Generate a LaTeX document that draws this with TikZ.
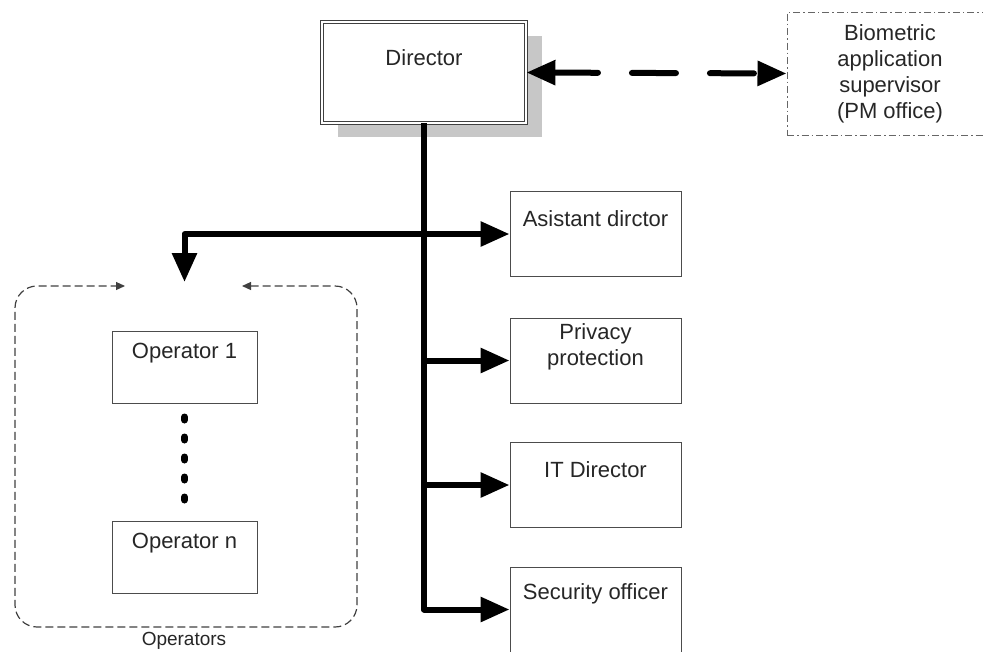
\documentclass[tikz,border=0pt]{standalone}
\usepackage{fontspec}
\setmainfont{Liberation Sans}
\usetikzlibrary{arrows.meta,shadows}

\tikzset{
	bigtri/.tip={Triangle[length=29pt,width=24pt]},
	smalltri/.tip={Triangle[length=9pt,width=8pt]},
	box/.style={draw=black!70, line width=1pt, minimum width=171pt, minimum height=85pt, inner sep=0pt},
	opbox/.style={box, minimum width=145pt, minimum height=72pt},
	lbl/.style={font=\fontsize{22}{26}\selectfont, text=black!85, align=center, inner sep=0pt},
	trunk/.style={line width=6pt, line join=round, -bigtri},
}

\begin{document}
\begin{tikzpicture}[x=1pt,y=-1pt]
	\useasboundingbox (0,0) rectangle (983,651);
	\clip (0,0) rectangle (983,651);
	% top row
	\node[box, minimum width=204pt, minimum height=101pt, draw=black!75, line width=0.9pt, double=white, double distance=2pt, fill=white, drop shadow={shadow xshift=16pt, shadow yshift=-14pt, fill=black!22, opacity=1}] (dir) at (424,72.5) {};
	\node[lbl] (dirt) at ([yshift=14.5pt]dir.center) {Director};
	\node[lbl, draw=black!60, line width=1pt, dash pattern=on 7pt off 3pt on 1.5pt off 3pt, minimum width=206pt, minimum height=123pt] (bio) at (890,73.5) {Biometric\\application\\supervisor\\(PM office)};
	\draw[line width=6pt, line cap=round, dash pattern=on 44pt off 34pt, bigtri-bigtri] (dir.east) -- (bio.west);
	% right column
	\node[box] (asst) at (595.5,234) {};
	\node[lbl] (asstt) at ([yshift=15pt]asst.center) {Asistant dirctor};
	\node[box] (priv) at (595.5,360.5) {};
	\node[lbl] (privt) at ([yshift=14pt]priv.center) {Privacy\\protection};
	\node[box] (it) at (595.5,485) {};
	\node[lbl] (itt) at ([yshift=15pt]it.center) {IT Director};
	\node[box] (sec) at (595.5,609.5) {};
	\node[lbl] (sect) at ([yshift=16pt]sec.center) {Security officer};
	% operators
	\node[opbox] (op1) at (184.5,367) {};
	\node[lbl] (op1t) at ([yshift=14pt]op1.center) {Operator 1};
	\node[opbox] (opn) at (184.5,557.5) {};
	\node[lbl] (opnt) at ([yshift=14.5pt]opn.center) {Operator n};
	\draw[line width=7pt, line cap=round, dash pattern=on 3pt off 17pt, shorten <=13.5pt, shorten >=20pt] (op1.south) -- (opn.north);
	\coordinate (opsin) at (184.5,282);
	\coordinate (opsL) at (125,286);
	\coordinate (opsR) at (242,286);
	\draw[black!75, line width=1.2pt, dash pattern=on 8pt off 4pt, rounded corners=22pt, smalltri-smalltri] (opsR) -- (357,286) -- (357,627) -- (15,627) -- (15,286) -- (opsL);
	\node[font=\fontsize{19}{21}\selectfont, text=black!85] (opslbl) at (184,641) {Operators};
	% connectors
	\draw[trunk] (dir.south) |- (sec.west);
	\draw[trunk] (dir.south |- priv.west) -- (priv.west);
	\draw[trunk] (dir.south |- it.west) -- (it.west);
	\draw[trunk, bigtri-bigtri] (opsin) |- (asst.west);
\end{tikzpicture}
\end{document}
